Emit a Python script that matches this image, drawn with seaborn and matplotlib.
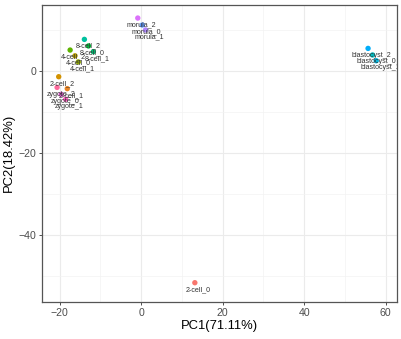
import numpy as np
import pandas as pd
import matplotlib
matplotlib.use("Agg")
import matplotlib.pyplot as plt
import matplotlib.transforms as mtransforms
from matplotlib.ticker import FixedLocator
import seaborn as sns

samples = ["zygote_0", "zygote_1", "zygote_2",
           "2-cell_0", "2-cell_1", "2-cell_2",
           "4-cell_0", "4-cell_1", "4-cell_2",
           "8-cell_0", "8-cell_1", "8-cell_2",
           "morula_0", "morula_1", "morula_2",
           "blastocyst_0", "blastocyst_1", "blastocyst_2"]
pc1 = [-19.6, -18.5, -20.6,
       13.2, -18.1, -20.2,
       -16.2, -15.4, -17.4,
       -12.9, -11.7, -13.9,
       0.3, 1.1, -0.8,
       56.8, 57.7, 55.7]
pc2 = [-5.8, -7.0, -4.1,
       -51.7, -4.4, -1.5,
       3.6, 2.1, 5.0,
       6.0, 4.6, 7.6,
       11.1, 9.9, 12.8,
       3.8, 2.4, 5.4]
xlabel = "PC1(71.11%)"
ylabel = "PC2(18.42%)"

df = pd.DataFrame({"sample": samples, "PC1": pc1, "PC2": pc2})
hue_order = sorted(samples)


def hcl_hex(h, c=100.0, l=65.0):
    # polar LUV -> sRGB (ggplot2 hue_pal)
    hr = np.deg2rad(h)
    u, v = c * np.cos(hr), c * np.sin(hr)
    Xn, Yn, Zn = 95.047, 100.0, 108.883
    un = 4 * Xn / (Xn + 15 * Yn + 3 * Zn)
    vn = 9 * Yn / (Xn + 15 * Yn + 3 * Zn)
    Y = Yn * ((l + 16) / 116) ** 3
    up = u / (13 * l) + un
    vp = v / (13 * l) + vn
    X = Y * 9 * up / (4 * vp)
    Z = Y * (12 - 3 * up - 20 * vp) / (4 * vp)
    X, Y, Z = X / 100, Y / 100, Z / 100
    r = 3.2404542 * X - 1.5371385 * Y - 0.4985314 * Z
    g = -0.9692660 * X + 1.8760108 * Y + 0.0415560 * Z
    b = 0.0556434 * X - 0.2040259 * Y + 1.0572252 * Z
    out = []
    for ch in (r, g, b):
        ch = 12.92 * ch if ch <= 0.0031308 else 1.055 * ch ** (1 / 2.4) - 0.055
        out.append(min(max(ch, 0), 1))
    return tuple(out)


n = len(hue_order)
palette = [hcl_hex(15 + 360 * i / n) for i in range(n)]

sns.set_theme(style="white")
plt.rcParams["font.family"] = ["Liberation Sans", "DejaVu Sans"]

fig = plt.figure(figsize=(4.01, 3.39), dpi=100)
ax = fig.add_axes([42 / 401, 1 - 302 / 339, (397 - 42) / 401, (302 - 4.5) / 339])

sns.scatterplot(data=df, x="PC1", y="PC2", hue="sample", hue_order=hue_order,
                palette=palette, s=15, linewidth=0, legend=False, ax=ax, zorder=3)

off = mtransforms.offset_copy(ax.transData, fig=fig, x=2.7, y=-4.9, units="points")
for s_, x_, y_ in zip(samples, pc1, pc2):
    ax.text(x_, y_, s_, transform=off, ha="center", va="center",
            fontsize=5.1, color="#333333", clip_on=True, zorder=4)

ax.set_xlim(-24.3, 62.8)
ax.set_ylim(-56.4, 16.1)
ax.xaxis.set_major_locator(FixedLocator([-20, 0, 20, 40, 60]))
ax.xaxis.set_minor_locator(FixedLocator([-10, 10, 30, 50]))
ax.yaxis.set_major_locator(FixedLocator([-40, -20, 0]))
ax.yaxis.set_minor_locator(FixedLocator([-50, -30, -10, 10]))

ax.grid(True, which="major", color="#EBEBEB", linewidth=0.8)
ax.grid(True, which="minor", color="#F2F2F2", linewidth=0.45)
ax.set_axisbelow(True)

for sp in ax.spines.values():
    sp.set_color("#555555")
    sp.set_linewidth(0.9)

ax.tick_params(axis="both", which="major", length=2.5, width=0.6, color="#333333",
               labelsize=7.6, labelcolor="#4D4D4D", pad=1.5, direction="out",
               bottom=True, left=True)
ax.tick_params(which="minor", length=0)

ax.set_xlabel(xlabel, fontsize=9.4, color="black", labelpad=1.5)
ax.set_ylabel(ylabel, fontsize=9.4, color="black", labelpad=3)

fig.savefig("out.png", dpi=100)
